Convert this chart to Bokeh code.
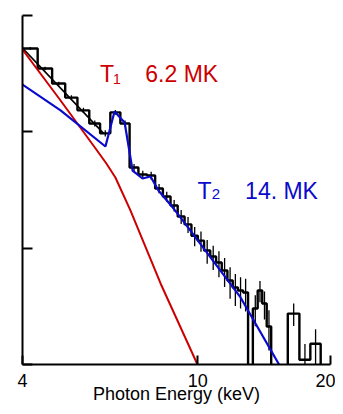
import numpy as np
from bokeh.plotting import figure
from bokeh.models import FixedTicker, CustomJSTickFormatter, Label
from bokeh.embed import file_html
from bokeh.resources import INLINE

# ---- data ----
bin_edges = [4.0, 4.33, 4.67, 5.0, 5.33, 5.67, 6.0, 6.33, 6.67, 7.0, 7.33, 7.67,
             8.0, 8.33, 8.67, 9.0, 9.33, 9.67, 10.0, 10.33, 10.67, 11.0, 11.33,
             11.67, 12.0, 12.33, 12.67, 13.0, 13.33, 13.67, 14.0, 14.33, 14.67,
             16.0, 17.0, 18.0, 19.0, 20.0]
counts = [520, 350, 260, 197, 153, 118, 97, 147, 118, 49.4, 43.0, 42.1,
          32.6, 27.8, 23.3, 18.7, 16.0, 12.8, 11.6, 9.55, 8.48, 7.53, 6.43,
          5.27, 4.59, 4.33, 4.16, 0, 3.03, 4.33, 3.34, 2.12, 0,
          2.74, 1.10, 1.51, 0]
errors = [15, 12, 10, 9, 8, 7, 6, 7, 7, 3.5, 3.2, 3.2,
          3.0, 2.8, 2.6, 2.6, 2.5, 2.4, 2.3, 2.2, 2.0, 1.9, 1.8,
          1.6, 1.4, 1.3, 1.3, 0, 0.9, 0.9, 0.9, 0.8, 0,
          0.6, 0.4, 0.5, 0]

t1_energy = [4.0, 4.88, 5.86, 6.20, 6.50, 7.03, 8.23, 9.98, 10.5]
t1_model = [510, 186, 71.9, 53.4, 40.5, 21.1, 4.97, 1.0, 0.55]

t2_energy = [4.0, 4.88, 6.17, 6.47, 6.82, 7.11, 7.49, 7.81, 8.14, 8.81, 9.14, 12.5, 15.24, 16.2]
t2_model = [255, 153, 74.8, 149.5, 120.3, 46.5, 39.7, 41.3, 31.3, 21.9, 18.3, 3.77, 1.02, 0.6]

total_energy = [4.0, 6.11]
total_model = [525, 97]

x_ticks = [4, 10, 20]
y_ticks = [1, 10, 100, 1000]

# ---- figure ----
p = figure(width=335, height=413, x_axis_type="log", y_axis_type="log",
           x_range=(4, 20), y_range=(1, 1000), output_backend="svg",
           toolbar_location=None, min_border_left=22, min_border_right=5,
           min_border_top=15, min_border_bottom=49)
p.grid.visible = False
p.outline_line_color = None
p.background_fill_color = "white"

FLOOR = 0.3
edges = np.array(bin_edges)
vals = np.array(counts, dtype=float)
errs = np.array(errors, dtype=float)
plot_vals = np.where(vals > 0, vals, FLOOR)
sx = np.repeat(edges, 2)[1:-1]
sy = np.repeat(plot_vals, 2)
p.line(sx, sy, line_color="black", line_width=2.4)

centers = 0.5 * (edges[:-1] + edges[1:])
mask = (vals > 0) & (errs > 0)
lo = np.maximum(vals - errs, FLOOR)
hi = vals + errs
p.segment(x0=centers[mask], y0=lo[mask], x1=centers[mask], y1=hi[mask],
          line_color="black", line_width=1.3)

p.line(total_energy, total_model, line_color="black", line_width=1.6)
p.line(t1_energy, t1_model, line_color="#cc0000", line_width=2)
p.line(t2_energy, t2_model, line_color="#0a0acc", line_width=2.2)

FONT = "Liberation Sans"

def lab(x, y, text, color, size):
    p.add_layout(Label(x=x, y=y, text=text, text_color=color, text_font=FONT,
                       text_font_size=size, text_align="left",
                       text_baseline="alphabetic"))

lab(6.0, 317, "T", "#cc0000", "23px")
lab(6.42, 285, "1", "#cc0000", "14px")
lab(7.6, 317, "6.2 MK", "#cc0000", "23px")
lab(9.98, 31.3, "T", "#0a0acc", "23px")
lab(10.75, 29.0, "2", "#0a0acc", "15px")
lab(12.8, 31.3, "14. MK", "#0a0acc", "23px")

# x axis
xa = p.xaxis[0]
xa.ticker = FixedTicker(ticks=x_ticks, minor_ticks=[])
xa.major_tick_in = 9
xa.major_tick_out = 0
xa.minor_tick_in = 0
xa.minor_tick_out = 0
xa.axis_line_width = 2
xa.major_tick_line_width = 2
xa.major_label_text_font = FONT
xa.major_label_text_font_size = "18px"
xa.major_label_text_color = "black"
xa.major_label_standoff = 9
xa.axis_label = "Photon Energy (keV)"
xa.axis_label_text_font = FONT
xa.axis_label_text_font_style = "normal"
xa.axis_label_text_font_size = "18px"
xa.axis_label_text_color = "black"
xa.axis_label_standoff = -6

# y axis
ya = p.yaxis[0]
ya.ticker = FixedTicker(ticks=y_ticks, minor_ticks=[])
ya.formatter = CustomJSTickFormatter(code="return ''")
ya.major_tick_in = 10
ya.major_tick_out = 0
ya.minor_tick_in = 0
ya.minor_tick_out = 0
ya.axis_line_width = 2
ya.major_tick_line_width = 2
ya.major_label_standoff = 0

open("out.html", "w").write(file_html(p, INLINE))
